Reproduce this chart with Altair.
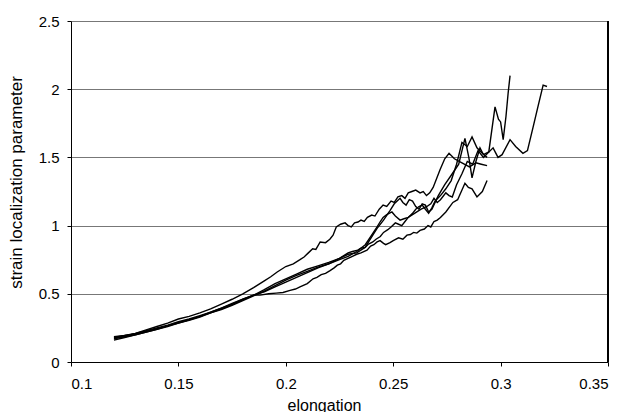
import altair as alt
import pandas as pd

# ---- data ----
u_x = [0.120, 0.125, 0.130, 0.135, 0.140, 0.145, 0.150, 0.155, 0.160, 0.165, 0.170, 0.175, 0.180, 0.185,
       0.190, 0.193, 0.196, 0.200, 0.2035, 0.2066, 0.2085, 0.2105, 0.2125, 0.214, 0.216, 0.2185, 0.2205,
       0.222, 0.2235, 0.2255, 0.2276, 0.229, 0.2305, 0.232, 0.2336, 0.235, 0.2365, 0.238, 0.240, 0.2415,
       0.2435, 0.2453, 0.247, 0.249, 0.2505, 0.2522, 0.254, 0.2555, 0.257, 0.2587, 0.2605, 0.2625, 0.264,
       0.2655, 0.267, 0.2686, 0.2718, 0.274, 0.276, 0.2785, 0.282, 0.2855, 0.2885, 0.291, 0.2937]
u_y = [0.175, 0.19, 0.21, 0.235, 0.26, 0.285, 0.315, 0.335, 0.36, 0.39, 0.425, 0.46, 0.50, 0.545,
       0.595, 0.625, 0.66, 0.70, 0.72, 0.75, 0.77, 0.80, 0.83, 0.825, 0.88, 0.875, 0.90,
       0.93, 0.99, 1.01, 1.02, 1.00, 0.99, 1.02, 1.026, 1.04, 1.03, 1.06, 1.077, 1.07,
       1.12, 1.15, 1.14, 1.18, 1.17, 1.21, 1.22, 1.20, 1.24, 1.25, 1.26, 1.24, 1.25,
       1.22, 1.24, 1.28, 1.41, 1.49, 1.53, 1.49, 1.46, 1.43, 1.46, 1.45, 1.44]

s_x = [0.120, 0.125, 0.130, 0.135, 0.140, 0.145, 0.150, 0.155, 0.160, 0.165, 0.170, 0.175, 0.180, 0.185,
       0.188, 0.192, 0.1955, 0.1987, 0.202, 0.2045, 0.2066, 0.210, 0.2127, 0.2145, 0.2165, 0.2185, 0.2206,
       0.2225, 0.224, 0.2255, 0.227, 0.229, 0.231, 0.233, 0.235, 0.2378, 0.2395, 0.2410, 0.2425, 0.2439,
       0.2455, 0.2465, 0.2485, 0.250, 0.2525, 0.2545, 0.2564, 0.258, 0.2595, 0.261, 0.2625, 0.2645,
       0.2662, 0.2675, 0.269, 0.2705, 0.272, 0.2745, 0.2778, 0.280, 0.2834, 0.285, 0.2867, 0.289, 0.2915,
       0.2937]
s_y = [0.16, 0.18, 0.20, 0.22, 0.24, 0.265, 0.285, 0.31, 0.335, 0.365, 0.395, 0.425, 0.46, 0.49,
       0.49, 0.50, 0.505, 0.51, 0.525, 0.535, 0.55, 0.575, 0.61, 0.62, 0.64, 0.65, 0.67,
       0.69, 0.71, 0.72, 0.745, 0.76, 0.775, 0.79, 0.80, 0.82, 0.85, 0.86, 0.88, 0.89,
       0.87, 0.86, 0.875, 0.89, 0.91, 0.90, 0.93, 0.935, 0.95, 0.945, 0.965, 0.975,
       1.00, 0.99, 1.03, 1.04, 1.06, 1.10, 1.17, 1.19, 1.31, 1.28, 1.27, 1.21, 1.25,
       1.33]

p_x = [0.120, 0.125, 0.130, 0.135, 0.140, 0.145, 0.150, 0.155, 0.160, 0.165, 0.170, 0.175, 0.180, 0.185,
       0.190, 0.195, 0.200, 0.205, 0.210, 0.215, 0.220, 0.225, 0.229, 0.233, 0.2369, 0.2405, 0.2425,
       0.2455, 0.2485, 0.2505, 0.2532, 0.2545, 0.256, 0.2575, 0.259, 0.2605, 0.262, 0.2635, 0.265,
       0.2665, 0.268, 0.2695, 0.271, 0.274, 0.2775, 0.2805, 0.2834, 0.2852, 0.2867, 0.2885, 0.2904,
       0.292, 0.2945, 0.2974, 0.2990, 0.3000, 0.3012, 0.3025, 0.3035, 0.3044]
p_y = [0.18, 0.195, 0.205, 0.225, 0.245, 0.265, 0.29, 0.31, 0.335, 0.36, 0.39, 0.42, 0.455, 0.49,
       0.53, 0.575, 0.61, 0.645, 0.68, 0.705, 0.73, 0.76, 0.79, 0.80, 0.84, 0.93, 0.98,
       1.04, 1.11, 1.16, 1.20, 1.17, 1.15, 1.19, 1.18, 1.14, 1.12, 1.16, 1.15,
       1.10, 1.12, 1.17, 1.22, 1.30, 1.38, 1.45, 1.64, 1.50, 1.35, 1.47, 1.57,
       1.52, 1.54, 1.87, 1.78, 1.76, 1.63, 1.80, 1.97, 2.10]

q_x = [0.120, 0.125, 0.130, 0.135, 0.140, 0.145, 0.150, 0.155, 0.160, 0.165, 0.170, 0.175, 0.180, 0.185,
       0.190, 0.195, 0.200, 0.205, 0.210, 0.215, 0.220, 0.225, 0.229, 0.233, 0.237, 0.2395, 0.2425,
       0.244, 0.2453, 0.247, 0.2494, 0.251, 0.2532, 0.255, 0.257, 0.259, 0.261, 0.263, 0.2657, 0.2675,
       0.269, 0.2705, 0.272, 0.2745, 0.276, 0.2775, 0.2795, 0.282, 0.2845, 0.287, 0.2895, 0.292, 0.2965,
       0.2988, 0.3007, 0.3044, 0.307, 0.3104, 0.3125, 0.3151, 0.3175, 0.3198, 0.3216]
q_y = [0.17, 0.185, 0.20, 0.22, 0.24, 0.26, 0.285, 0.305, 0.33, 0.36, 0.385, 0.415, 0.45, 0.485,
       0.52, 0.56, 0.60, 0.635, 0.665, 0.695, 0.72, 0.75, 0.775, 0.81, 0.86, 0.92, 0.99,
       1.03, 1.06, 1.08, 1.10, 1.07, 1.04, 1.05, 1.06, 1.08, 1.10, 1.12, 1.14, 1.16,
       1.20, 1.17, 1.19, 1.24, 1.22, 1.21, 1.30, 1.38, 1.47, 1.45, 1.55, 1.50, 1.57,
       1.50, 1.52, 1.63, 1.58, 1.53, 1.55, 1.72, 1.88, 2.03, 2.02]

v_x = [0.120, 0.125, 0.130, 0.135, 0.140, 0.145, 0.150, 0.155, 0.160, 0.165, 0.170, 0.175, 0.180, 0.185,
       0.190, 0.195, 0.200, 0.205, 0.210, 0.215, 0.220, 0.225, 0.229, 0.231, 0.2335, 0.235, 0.237,
       0.2385, 0.2405, 0.242, 0.244, 0.2455, 0.2475, 0.249, 0.251, 0.2525, 0.254, 0.2555, 0.257, 0.259,
       0.2605, 0.262, 0.2635, 0.265, 0.2665, 0.268, 0.2695, 0.272, 0.2745, 0.277, 0.2795, 0.282, 0.2845,
       0.2867, 0.289, 0.2915, 0.2937]
v_y = [0.185, 0.195, 0.21, 0.23, 0.25, 0.27, 0.295, 0.315, 0.34, 0.365, 0.395, 0.43, 0.46, 0.49,
       0.515, 0.55, 0.585, 0.62, 0.655, 0.69, 0.72, 0.76, 0.80, 0.81, 0.82, 0.835, 0.84,
       0.865, 0.88, 0.90, 0.92, 0.95, 0.97, 0.99, 1.02, 1.01, 1.00, 1.03, 1.06, 1.09,
       1.12, 1.14, 1.15, 1.12, 1.09, 1.13, 1.18, 1.22, 1.27, 1.33, 1.45, 1.61, 1.58,
       1.65, 1.57, 1.53, 1.50]

x_ticks = [0.1, 0.15, 0.2, 0.25, 0.3, 0.35]
y_ticks = [0, 0.5, 1, 1.5, 2, 2.5]

series = {"1": (u_x, u_y), "2": (s_x, s_y), "3": (p_x, p_y), "4": (q_x, q_y), "5": (v_x, v_y)}
rows = []
for name, (xs, ys) in series.items():
    for xv, yv in zip(xs, ys):
        rows.append({"series": name, "elongation": xv, "slp": yv})
df = pd.DataFrame(rows)

FONT = "Liberation Sans"

lines = alt.Chart(df).mark_line(color="black", strokeWidth=1.4).encode(
    x=alt.X("elongation:Q",
            scale=alt.Scale(domain=[0.1, 0.35], nice=False, zero=False),
            axis=alt.Axis(values=x_ticks, format=".2~f", title="elongation",
                          grid=False, domainColor="black", tickColor="black",
                          tickSize=4, labelPadding=10, labelFontSize=15,
                          labelFont=FONT, labelColor="black",
                          titleFont=FONT, titleFontSize=16, titleFontWeight="normal",
                          titleColor="black", titleBaseline="alphabetic",
                          titleX=253, titleY=48, titleAnchor="middle")),
    y=alt.Y("slp:Q",
            scale=alt.Scale(domain=[0, 2.5], nice=False),
            axis=alt.Axis(values=y_ticks, format=".1~f", title="strain localization parameter",
                          grid=True, gridColor="#777777", gridWidth=1,
                          domainColor="black", tickColor="black",
                          tickSize=4, labelPadding=8, labelFontSize=15,
                          labelFont=FONT, labelColor="black",
                          titleFont=FONT, titleFontSize=17, titleFontWeight="normal",
                          titleColor="black", titleX=-46, titleY=161)),
    detail="series:N",
)

border = alt.Chart(df).mark_rule(color="black", strokeWidth=1).encode(
    x=alt.value("width"), y=alt.value(0), y2=alt.value("height")
)

chart = alt.layer(lines, border).properties(
    width=537, height=341,
    autosize=alt.AutoSizeParams(type="none"),
    padding={"left": 63, "top": 13, "right": 15, "bottom": 50},
).configure_view(stroke=None)

chart.save("out.html", embed_options={"renderer": "svg", "actions": False})
